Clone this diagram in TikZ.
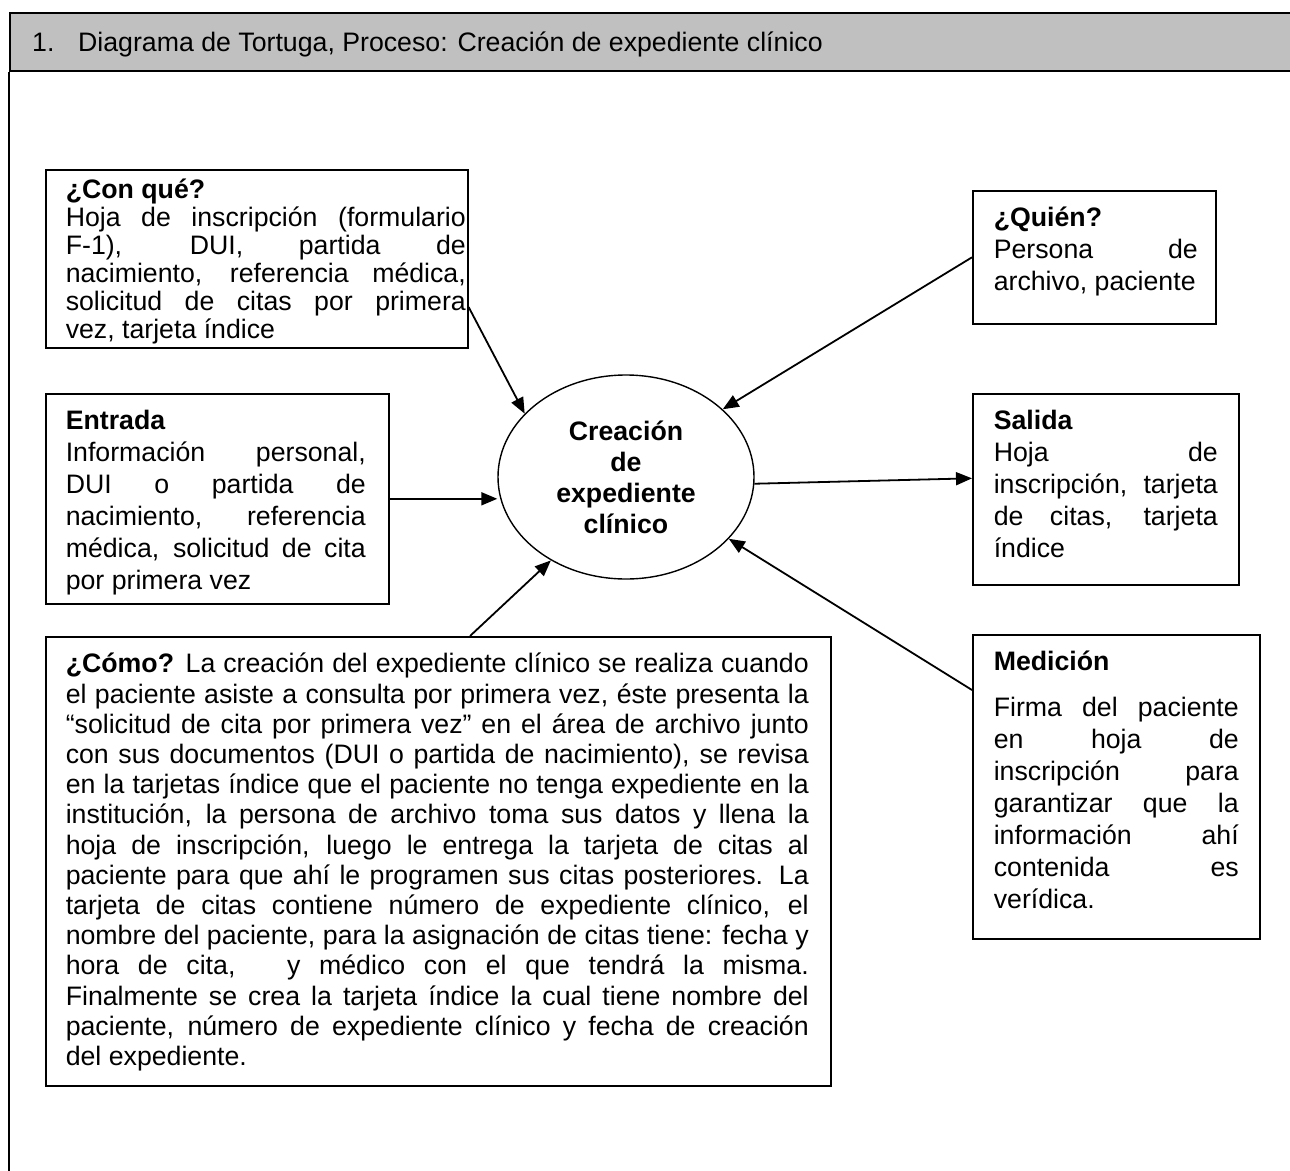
\documentclass[tikz,border=0pt]{standalone}
\usepackage{fontspec}
\setmainfont{Liberation Sans}
\usetikzlibrary{shapes.geometric,arrows.meta,calc}
\definecolor{headgray}{RGB}{192,192,192}

% one fully justified line of a text block
\newcommand{\jl}[1]{\makebox[\linewidth][s]{#1}\par}
% text block of a framed panel:
% box width, box height, left margin, text width, first baseline from top, text
\newcommand{\paneltext}[6]{%
  \parbox[c][#2][t]{#1}{\fontsize{26.7}{32}\selectfont
    \mbox{}\par\vspace{\dimexpr#5-32pt\relax}%
    \hspace*{#3}\parbox[t]{#4}{\fontsize{26.7}{32}\selectfont #6}}}

\tikzset{
  panel/.style={draw, line width=1.6pt, inner sep=0pt, anchor=north west},
  conn/.style={line width=1.8pt, -{Triangle[length=16pt,width=13pt]}},
  frame/.style={line width=1.6pt}
}

\begin{document}
\begin{tikzpicture}[x=1pt,y=-1pt]
\useasboundingbox (0,0) rectangle (1290,1170);

% title bar and the frame's left side
\node[draw, frame, fill=headgray, anchor=north west, inner sep=0pt,
      minimum width=1300pt, minimum height=58pt] (header) at (9,12) {};
\node[anchor=base west, inner sep=0pt, font=\fontsize{26.7}{32}\selectfont] (title) at (32,51)
  {\makebox[46pt][l]{1.}Diagrama de Tortuga, Proceso: Creación de expediente clínico};
\coordinate (framebottom) at (9,1175);
\draw[frame] (header.south west) -- (framebottom);

% the process
\node[ellipse, draw, line width=1.4pt, minimum width=256pt, minimum height=204pt, inner sep=0pt]
  (proc) at (626,477)
  {\parbox{145pt}{\centering\bfseries\fontsize{26.7}{31}\selectfont Creación\\de\\expediente\\clínico}};

% the six questions
\node[panel] (conque) at (45,169) {\paneltext{422pt}{178pt}{20pt}{400pt}{29pt}{%
  \fontsize{26.7}{28}\selectfont
  \textbf{¿Con qué?}\par
  \jl{Hoja de inscripción (formulario}
  \jl{F-1), DUI, partida de}
  \jl{nacimiento, referencia médica,}
  \jl{solicitud de citas por primera}
  vez, tarjeta índice}};

\node[panel] (quien) at (972,190) {\paneltext{243pt}{133pt}{21pt}{204pt}{36pt}{%
  \textbf{¿Quién?}\par
  \jl{Persona de}
  archivo, paciente}};

\node[panel] (entrada) at (45,393) {\paneltext{343pt}{210pt}{20pt}{300pt}{36pt}{%
  \textbf{Entrada}\par
  \jl{Información personal,}
  \jl{DUI o partida de}
  \jl{nacimiento, referencia}
  \jl{médica, solicitud de cita}
  por primera vez}};

\node[panel] (salida) at (972,393) {\paneltext{266pt}{191pt}{21pt}{224pt}{36pt}{%
  \textbf{Salida}\par
  \jl{Hoja de}
  \jl{inscripción, tarjeta}
  \jl{de citas, tarjeta}
  índice}};

\node[panel] (medicion) at (972,634) {\paneltext{287pt}{304pt}{21pt}{245pt}{36pt}{%
  \textbf{Medición}\par\vspace{14pt}
  \jl{Firma del paciente}
  \jl{en hoja de}
  \jl{inscripción para}
  \jl{garantizar que la}
  \jl{información ahí}
  \jl{contenida es}
  verídica.}};

\node[panel] (como) at (45,636) {\paneltext{785pt}{449pt}{20pt}{743pt}{36pt}{%
  \fontsize{26.7}{30.2}\selectfont
  \jl{\textbf{¿Cómo?} La creación del expediente clínico se realiza cuando}
  \jl{el paciente asiste a consulta por primera vez, éste presenta la}
  \jl{“solicitud de cita por primera vez” en el área de archivo junto}
  \jl{con sus documentos (DUI o partida de nacimiento), se revisa}
  \jl{en la tarjetas índice que el paciente no tenga expediente en la}
  \jl{institución, la persona de archivo toma sus datos y llena la}
  \jl{hoja de inscripción, luego le entrega la tarjeta de citas al}
  \jl{paciente para que ahí le programen sus citas posteriores. La}
  \jl{tarjeta de citas contiene número de expediente clínico, el}
  \jl{nombre del paciente, para la asignación de citas tiene: fecha y}
  \jl{hora de cita,\hspace{30pt} y médico con el que tendrá la misma.}
  \jl{Finalmente se crea la tarjeta índice la cual tiene nombre del}
  \jl{paciente, número de expediente clínico y fecha de creación}
  del expediente.}};

% connectors
\draw[conn] ($(conque.north east)+(0,138)$) -- (proc.148);
\draw[conn] (quien.west) -- (proc.35);
\draw[conn] (entrada.east) -- (entrada.east -| proc.west);
\draw[conn] (proc.-3) -- ($(salida.west)+(0,-11)$);
\draw[conn] ($(medicion.north west)+(0,56)$) -- (proc.-31);
\draw[conn] ($(como.north west)+(425,0)$) -- (proc.228);
\end{tikzpicture}
\end{document}
